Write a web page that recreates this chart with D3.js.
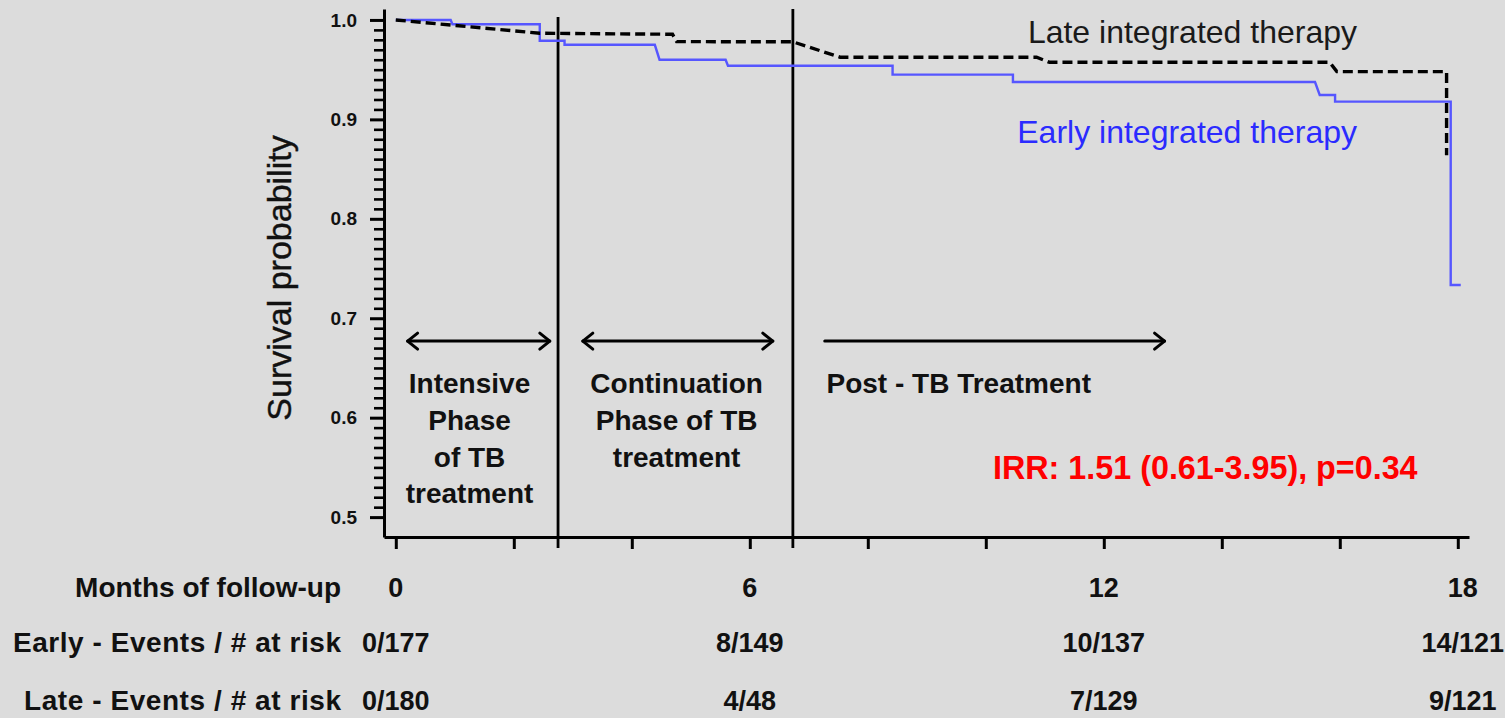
<!DOCTYPE html>
<html>
<head>
<meta charset="utf-8">
<script src="https://cdn.jsdelivr.net/npm/d3@7"></script>
<style>
  html, body { margin: 0; padding: 0; background: #dcdcdc; }
  svg { display: block; }
  text { font-family: "Liberation Sans", Arial, sans-serif; }
</style>
</head>
<body>
<svg id="chart" width="1505" height="718"></svg>
<script>
// ---------------- data ----------------
const earlyMonths   = [0, 0.93, 0.96, 2.44, 2.44, 2.86, 2.86, 4.39, 4.47, 5.59, 5.63, 8.42, 8.42, 10.46, 10.46, 15.58, 15.66, 15.92, 15.92, 17.88, 17.88, 18.05];
const earlySurvival = [1.0, 1.0, 0.9957, 0.9957, 0.979, 0.979, 0.975, 0.975, 0.960, 0.960, 0.954, 0.954, 0.945, 0.945, 0.9376, 0.9376, 0.9245, 0.9245, 0.9178, 0.9178, 0.7334, 0.7334];
const lateMonths   = [0, 2.44, 4.69, 4.76, 6.73, 7.53, 10.86, 11.08, 15.83, 15.95, 17.81, 17.81];
const lateSurvival = [1.0, 0.9866, 0.9856, 0.9782, 0.978, 0.9625, 0.9625, 0.9574, 0.9574, 0.948, 0.948, 0.864];

const yTickValues = [0.5, 0.6, 0.7, 0.8, 0.9, 1.0];
const yTickLabels = ["0.5", "0.6", "0.7", "0.8", "0.9", "1.0"];
const yMinorTickValues = [0.51,0.52,0.53,0.54,0.55,0.56,0.57,0.58,0.59,0.61,0.62,0.63,0.64,0.65,0.66,0.67,0.68,0.69,0.71,0.72,0.73,0.74,0.75,0.76,0.77,0.78,0.79,0.81,0.82,0.83,0.84,0.85,0.86,0.87,0.88,0.89,0.91,0.92,0.93,0.94,0.95,0.96,0.97,0.98,0.99];
const xTickValues = [0, 2, 4, 6, 8, 10, 12, 14, 16, 18];

const riskMonths = [0, 6, 12, 18];
const riskMonthLabels = ["0", "6", "12", "18"];
const earlyRisk = ["0/177", "8/149", "10/137", "14/121"];
const lateRisk  = ["0/180", "4/48", "7/129", "9/121"];
const rowLabels = ["Months of follow-up", "Early - Events / # at risk", "Late - Events / # at risk"];

const phaseBoundaries = [2.75, 6.73];
const phaseTops = [1.003, 1.011];
const arrowFrom = [0.2, 3.17, 7.27];
const arrowTo   = [2.61, 6.39, 13.03];
const arrowBoth = [true, true, false];
const arrowLevel = 0.677;
const phaseText = [["Intensive", "Phase", "of TB", "treatment"], ["Continuation", "Phase of TB", "treatment"], ["Post - TB Treatment"]];
const phaseTextAt = [1.25, 4.76, 7.3];

const irrText = "IRR: 1.51 (0.61-3.95), p=0.34";

// ---------------- layout ----------------
const svg = d3.select("#chart");
svg.append("rect").attr("width", 1505).attr("height", 718).attr("fill", "#dcdcdc");

const x = d3.scaleLinear().domain([-0.2, 18.19]).range([384, 1469]);
const y = d3.scaleLinear().domain([0.48, 1.011]).range([537, 9]);
const x0 = x.range()[0];

// Major + minor y ticks in a single axis (minor ones unlabeled, shorter)
const isMajor = d => yTickValues.some(v => Math.abs(v - d) < 1e-9);
const yAllTicks = yTickValues.concat(yMinorTickValues);
const yAxis = svg.append("g")
  .attr("transform", `translate(${x0},0)`)
  .call(d3.axisLeft(y).tickValues(yAllTicks).tickSize(14).tickSizeOuter(0)
        .tickFormat(d => { const k = yTickValues.findIndex(v => Math.abs(v - d) < 1e-9); return k >= 0 ? yTickLabels[k] : ""; })
        .tickPadding(13));
yAxis.select(".domain").attr("stroke", "#000").attr("stroke-width", 3);
yAxis.selectAll(".tick line")
  .attr("stroke", "#000")
  .attr("stroke-width", d => isMajor(d) ? 3 : 2.6)
  .attr("x2", d => isMajor(d) ? -14 : -10);
yAxis.selectAll("text")
  .attr("fill", "#111").attr("font-size", 19).attr("font-weight", "bold")
  .attr("font-family", '"Liberation Sans", Arial, sans-serif');

// x axis
const xAxis = svg.append("g")
  .attr("transform", `translate(0,${y.range()[0]})`)
  .call(d3.axisBottom(x).tickValues(xTickValues).tickSize(12).tickSizeOuter(0).tickFormat(() => ""));
xAxis.select(".domain").attr("stroke", "#000").attr("stroke-width", 3.2);
xAxis.selectAll("line").attr("stroke", "#000").attr("stroke-width", 3);

// Y label
svg.append("text")
  .attr("transform", `translate(291,278) rotate(-90)`)
  .attr("text-anchor", "middle")
  .attr("font-size", 34)
  .attr("fill", "#111")
  .attr("stroke", "#111").attr("stroke-width", 0.4)
  .text("Survival probability");

// Phase boundary lines
svg.append("g").selectAll("line")
  .data(phaseBoundaries)
  .join("line")
  .attr("x1", d => x(d)).attr("x2", d => x(d))
  .attr("y1", (d, i) => y(phaseTops[i]))
  .attr("y2", y.range()[0] + 11)
  .attr("stroke", "#000").attr("stroke-width", 2.8);

// Survival curves
const line = d3.line().x(d => x(d[0])).y(d => y(d[1]));
const earlyPts = earlyMonths.map((m, i) => [m, earlySurvival[i]]);
const latePts = lateMonths.map((m, i) => [m, lateSurvival[i]]);

svg.append("path")
  .datum(earlyPts)
  .attr("d", line)
  .attr("fill", "none")
  .attr("stroke", "#5656ff")
  .attr("stroke-width", 2.4);

svg.append("path")
  .datum(latePts)
  .attr("d", line)
  .attr("fill", "none")
  .attr("stroke", "#000")
  .attr("stroke-width", 3.4)
  .attr("stroke-dasharray", "10,5");

// Legend texts
svg.append("text")
  .attr("x", 1357).attr("y", 43).attr("text-anchor", "end")
  .attr("font-size", 32).attr("fill", "#1a1a1a")
  .text("Late integrated therapy");
svg.append("text")
  .attr("x", 1357).attr("y", 143).attr("text-anchor", "end")
  .attr("font-size", 32).attr("fill", "#2b2bff")
  .text("Early integrated therapy");

// Arrows
const ay = y(arrowLevel);
const head = 10, half = 8;
arrowFrom.forEach((f, i) => {
  const x1 = x(f), x2 = x(arrowTo[i]);
  const g = svg.append("g").attr("stroke", "#000").attr("stroke-width", 3).attr("fill", "none")
    .attr("stroke-linecap", "round").attr("stroke-linejoin", "round");
  g.append("line").attr("x1", x1).attr("x2", x2).attr("y1", ay).attr("y2", ay);
  g.append("polyline").attr("points", `${x2 - head},${ay - half} ${x2},${ay} ${x2 - head},${ay + half}`);
  if (arrowBoth[i]) {
    g.append("polyline").attr("points", `${x1 + head},${ay - half} ${x1},${ay} ${x1 + head},${ay + half}`);
  }
});

// Phase labels
phaseText.forEach((lines, i) => {
  const anchor = i < 2 ? "middle" : "start";
  lines.forEach((t, j) => {
    svg.append("text")
      .attr("x", x(phaseTextAt[i]))
      .attr("y", ay + 52 + j * 36.7)
      .attr("text-anchor", anchor)
      .attr("font-size", 28).attr("font-weight", "bold").attr("fill", "#111")
      .text(t);
  });
});

// IRR
svg.append("text")
  .attr("x", 993).attr("y", 479)
  .attr("font-size", 32.3).attr("font-weight", "bold").attr("fill", "#ff0000")
  .text(irrText);

// Risk table
const rowY = [597, 652, 710];
const rowLabelWidth = [null, 328, 317];
const rows = [riskMonthLabels, earlyRisk, lateRisk];
rowLabels.forEach((lab, r) => {
  const t = svg.append("text")
    .attr("x", 341).attr("y", rowY[r]).attr("text-anchor", "end")
    .attr("font-size", 28).attr("font-weight", "bold").attr("fill", "#111")
    .text(lab);
  if (rowLabelWidth[r]) t.attr("textLength", rowLabelWidth[r]).attr("lengthAdjust", "spacing");
  svg.append("g").selectAll("text")
    .data(rows[r])
    .join("text")
    .attr("x", (d, i) => x(riskMonths[i]) + (i === 3 ? 5 : 0))
    .attr("y", rowY[r])
    .attr("text-anchor", "middle")
    .attr("font-size", 27).attr("font-weight", "bold").attr("fill", "#111")
    .text(d => d);
});
</script>
</body>
</html>
